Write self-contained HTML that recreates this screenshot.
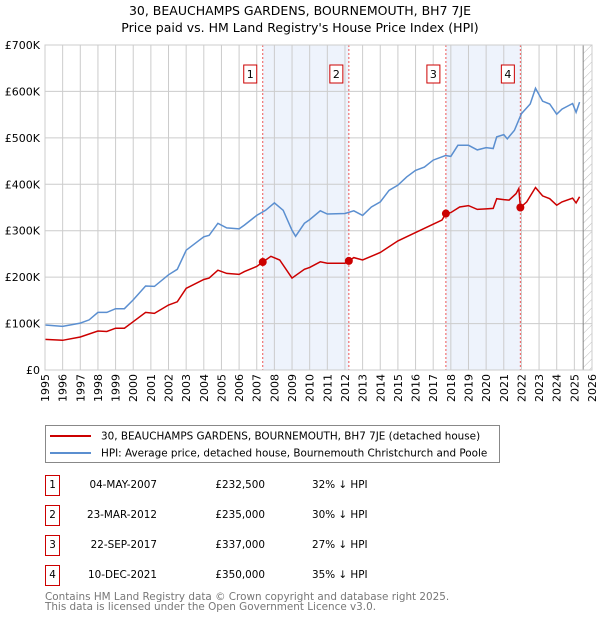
<!DOCTYPE html>
<html><head><meta charset="utf-8"><style>
body{margin:0;background:#fff;font-family:"Liberation Sans","DejaVu Sans",sans-serif;}
svg text{font-family:"DejaVu Sans","Liberation Sans",sans-serif;}
</style></head><body>
<svg id="c" width="600" height="620" xmlns="http://www.w3.org/2000/svg">
<defs><pattern id="hatch" width="6" height="6" patternUnits="userSpaceOnUse" patternTransform="rotate(45)"><line x1="0" y1="0" x2="0" y2="6" stroke="#bbb" stroke-width="1"/></pattern></defs>
<text x="300" y="15" text-anchor="middle" font-size="12.5">30, BEAUCHAMPS GARDENS, BOURNEMOUTH, BH7 7JE</text>
<text x="300" y="32" text-anchor="middle" font-size="12.5">Price paid vs. HM Land Registry's House Price Index (HPI)</text>
<g id="plot"></g>
<g>
<rect x="45.5" y="425.5" width="454" height="37" fill="#fff" stroke="#888"/>
<line x1="50" y1="436" x2="91" y2="436" stroke="#cc0000" stroke-width="2"/>
<text x="101" y="439.5" font-size="10.4">30, BEAUCHAMPS GARDENS, BOURNEMOUTH, BH7 7JE (detached house)</text>
<line x1="50" y1="453" x2="91" y2="453" stroke="#5b8fd0" stroke-width="2"/>
<text x="101" y="456.5" font-size="10.4">HPI: Average price, detached house, Bournemouth Christchurch and Poole</text>
</g>
<g id="table"></g>
<text x="45" y="600" font-size="10.4" fill="#777">Contains HM Land Registry data © Crown copyright and database right 2025.</text>
<text x="45" y="610" font-size="10.4" fill="#777">This data is licensed under the Open Government Licence v3.0.</text>
</svg>
<script>
const hpiYears=[1995,1996,1997,1997.5,1998,1998.5,1999,1999.5,2000,2000.7,2001.2,2002,2002.5,2003,2004,2004.3,2004.8,2005.3,2006,2006.3,2007,2007.5,2008,2008.5,2009,2009.2,2009.7,2010,2010.6,2011,2012,2012.5,2013,2013.5,2014,2014.5,2015,2015.5,2016,2016.5,2017,2017.7,2018,2018.4,2019,2019.5,2020,2020.4,2020.6,2021,2021.2,2021.6,2022,2022.5,2022.8,2023.2,2023.6,2024,2024.3,2024.9,2025.1,2025.3];
const hpiValues=[97,94,101,108,124,124,132,132,151,181,180,205,217,258,287,290,316,306,304,312,333,344,360,344,301,288,316,324,343,336,337,343,333,351,362,387,398,416,430,437,452,462,460,484,484,474,479,477,502,507,498,516,552,573,607,579,573,551,562,574,555,577];
const ppYears=[1995,1996,1997,1998,1998.5,1999,1999.5,2000,2000.7,2001.2,2002,2002.5,2003,2004,2004.3,2004.8,2005.3,2006,2006.3,2007,2007.34,2007.8,2008.3,2009,2009.7,2010,2010.6,2011,2012,2012.22,2012.5,2013,2014,2015,2016,2017,2017.5,2017.72,2018,2018.5,2019,2019.5,2020,2020.4,2020.6,2021,2021.3,2021.7,2021.85,2021.94,2022.3,2022.8,2023.2,2023.6,2024,2024.3,2024.9,2025.1,2025.3];
const ppValues=[66,64,71,84,83,90,90,104,124,122,140,147,176,195,198,215,208,206,212,223,232.5,245,237,198,217,221,233,230,230,235,242,237,253,278,296,314,323,337,339,351,354,346,347,348,369,367,366,380,391,350,362,393,375,369,355,362,370,360,373];
const saleLabels=["1","2","3","4"];
const saleYears=[2007.34,2012.22,2017.72,2021.94];
const saleDates=["04-MAY-2007","23-MAR-2012","22-SEP-2017","10-DEC-2021"];
const salePrices=[232.5,235,337,350];
const salePriceText=["£232,500","£235,000","£337,000","£350,000"];
const saleDiff=["32% ↓ HPI","30% ↓ HPI","27% ↓ HPI","35% ↓ HPI"];
const yTicks=[0,100,200,300,400,500,600,700];
const yTickLabels=["£0","£100K","£200K","£300K","£400K","£500K","£600K","£700K"];
const xMin=1995,xMax=2026,yMax=700,L=45,R=592,T=45,B=370,dataEnd=2025.5;
const X=v=>L+(v-xMin)/(xMax-xMin)*(R-L);
const Y=v=>B-v/yMax*(B-T);
const NS="http://www.w3.org/2000/svg";
const g=document.getElementById('plot');
function el(t,a,p){const e=document.createElementNS(NS,t);for(const k in a)e.setAttribute(k,a[k]);(p||g).appendChild(e);return e;}
for(let i=0;i<saleYears.length;i+=2){const r=el('rect',{x:X(saleYears[i]),y:T,width:X(saleYears[i+1])-X(saleYears[i]),height:B-T,fill:'#eef3fc'});

}
const h=el('rect',{x:X(dataEnd),y:T,width:R-X(dataEnd),height:B-T,fill:'url(#hatch)'});


for(let yr=xMin;yr<=xMax;yr++){const l=el('line',{x1:X(yr),x2:X(yr),y1:T,y2:B,stroke:'#ccc'});


const t=el('text',{x:0,y:0,'font-size':11,'text-anchor':'end',transform:`translate(${X(yr)+4},${B+4}) rotate(-90)`});t.textContent=yr;

}
yTicks.forEach((v,i)=>{const l=el('line',{x1:L,x2:R,y1:Y(v),y2:Y(v),stroke:'#ccc'});


const t=el('text',{x:L-5,y:Y(v)+4,'font-size':11,'text-anchor':'end'});t.textContent=yTickLabels[i];

});
const dl=el('line',{x1:X(dataEnd),x2:X(dataEnd),y1:T,y2:B,stroke:'#888','stroke-width':1});


saleYears.forEach((yr,i)=>{const l=el('line',{x1:X(yr),x2:X(yr),y1:T,y2:B,stroke:'#e55','stroke-dasharray':'2,2'});


const bx=el('rect',{x:X(yr)-19,y:65,width:13,height:18,fill:'#fff',stroke:'#cc0000'});


const t=el('text',{x:X(yr)-12.5,y:78,'font-size':11,'text-anchor':'middle'});t.textContent=saleLabels[i];

});
const line=(xs,ys,c,n)=>{const p=el('path',{d:xs.map((x,i)=>(i?'L':'M')+X(x).toFixed(1)+','+Y(ys[i]).toFixed(1)).join(''),fill:'none',stroke:c,'stroke-width':1.5});

};
line(hpiYears,hpiValues,'#5b8fd0','hpi-line');
line(ppYears,ppValues,'#cc0000','price-paid-line');
saleYears.forEach((yr,i)=>{const c=el('circle',{cx:X(yr),cy:Y(salePrices[i]),r:4,fill:'#cc0000'});

});
el('rect',{x:L,y:T,width:R-L,height:B-T,fill:'none',stroke:'#ccc'});
const tb=document.getElementById('table');
saleYears.forEach((yr,i)=>{const y0=475+i*30;
const b=el('rect',{x:45.5,y:y0+0.5,width:14,height:20,fill:'#fff',stroke:'#cc0000'},tb);


const a=el('text',{x:52.5,y:y0+13,'font-size':10.4,'text-anchor':'middle'},tb);a.textContent=saleLabels[i];


const d=el('text',{x:157,y:y0+13,'font-size':10.4,'text-anchor':'end'},tb);d.textContent=saleDates[i];


const p=el('text',{x:265,y:y0+13,'font-size':10.4,'text-anchor':'end'},tb);p.textContent=salePriceText[i];


const q=el('text',{x:312,y:y0+13,'font-size':10.4},tb);q.textContent=saleDiff[i];

});
</script>
</body></html>
